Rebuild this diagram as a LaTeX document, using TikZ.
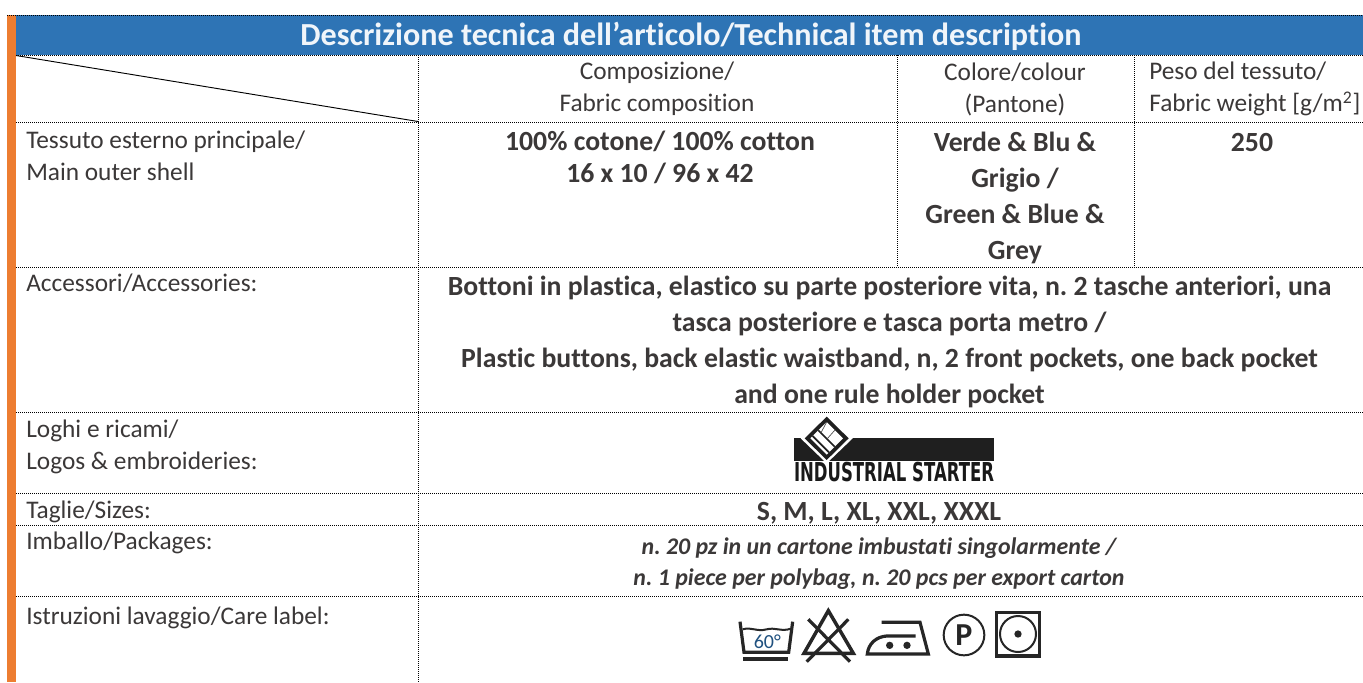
\documentclass[tikz,border=0pt]{standalone}
\usepackage{graphicx}
\usepackage{fontspec}
\setmainfont{Carlito}[Ligatures=NoCommon]
\newfontfamily\brandfont{DejaVu Sans}
\frenchspacing
\definecolor{hdr}{HTML}{2E74B5}
\definecolor{bar}{HTML}{ED7D31}
\definecolor{ink}{HTML}{3B3838}
\tikzset{
 grid/.style={black,line width=.7pt,dash pattern=on .75pt off .75pt},
 lab/.style={text=ink,font=\fontsize{19}{24}\selectfont,anchor=west,inner sep=0pt,align=left},
 mid/.style={text=ink,font=\fontsize{19}{24}\selectfont,inner sep=0pt,align=center},
 bmid/.style={text=ink,font=\fontsize{20.8}{27}\selectfont\bfseries,inner sep=0pt,align=center},
 care/.style={black!85,line width=2.4pt,line join=miter},
 thin care/.style={black!85,line width=1.5pt},
}
\begin{document}
\begin{tikzpicture}[x=.75pt,y=-.75pt]
\useasboundingbox (0,0) rectangle (1363,682);
\fill[white] (0,0) rectangle (1363,682);
\fill[hdr] (16,15) rectangle (1363,55);
\fill[bar] (7,15) rectangle (16,682);
\draw[grid] (7,15) -- (1363,15);
\foreach \yy in {55,122,267,412,493,525,596} \draw[grid] (16,\yy) -- (1363,\yy);
\draw[grid] (418,55) -- (418,682);
\draw[grid] (897,55) -- (897,267);
\draw[grid] (1134,55) -- (1134,267);
\draw[black,line width=.7pt] (16,55.5) -- (418,121.5);
\node[inner sep=0pt,text=white!93!hdr,font=\fontsize{24.1}{28}\selectfont\bfseries] (title) at (691,36) {Descrizione tecnica dell’articolo/Technical item description};
\node[mid] (h1) at (657,89) {Composizione/\\Fabric composition};
\node[mid] (h2) at (1015,89) {Colore/colour\\(Pantone)};
\node[lab] (h3) at (1149,89) {Peso del tessuto/\\Fabric weight [g/m\textsuperscript{2}]};
\node[lab] (r1) at (26,156) {Tessuto esterno principale/\\Main outer shell};
\node[bmid,font=\fontsize{20.8}{24}\selectfont\bfseries] (c1) at (660,157) {100\% cotone/ 100\% cotton\\16 x 10 / 96 x 42};
\node[bmid] (c2) at (1015,197.5) {Verde \& Blu \&\\Grigio /\\Green \& Blue \&\\Grey};
\node[bmid] (c3) at (1252,142) {250};
\node[lab] (r2) at (26,283) {Accessori/Accessories:};
\node[bmid] (acc) at (889.5,341.5) {Bottoni in plastica, elastico su parte posteriore vita, n. 2 tasche anteriori, una\\tasca posteriore e tasca porta metro /\\Plastic buttons, back elastic waistband, n, 2 front pockets, one back pocket\\and one rule holder pocket};
\node[lab] (r3) at (26,447) {Loghi e ricami/\\Logos \& embroideries:};
\node[lab] (r4) at (26,511.5) {Taglie/Sizes:};
\node[bmid] (sz) at (879,513) {S, M, L, XL, XXL, XXXL};
\node[lab] (r5) at (26,543) {Imballo/Packages:};
\node[bmid,font=\fontsize{17.9}{23}\selectfont\bfseries\itshape] (pk) at (879,563.5) {n. 20 pz in un cartone imbustati singolarmente /\\n. 1 piece per polybag, n. 20 pcs per export carton};
\node[lab] (r6) at (26,618) {Istruzioni lavaggio/Care label:};
% logo
\begin{scope}[shift={(760,400)},x=.25pt,y=-.25pt]
\fill[black!88] (102,115) rectangle (703,182);
\fill[white] (200,40) -- (278,115) -- (200,190) -- (122,115) -- cycle;
\fill[black!88] (200,50) -- (266,115) -- (200,180) -- (134,115) -- cycle;
\fill[white] (200,66) -- (249,115) -- (200,164) -- (151,115) -- cycle;
\draw[black!88,line width=1.3pt] (158,108) -- (207,157) (175,91) -- (224,140);
\draw[black!70,line width=.5pt] (200,66) -- (182,100) (224,91) -- (200,118);
\node[inner sep=0pt,anchor=center,text=black!90] (brand) at (402,216) {\resizebox{150pt}{14.5pt}{\brandfont\bfseries INDUSTRIAL STARTER}};
\end{scope}
% care
\begin{scope}[shift={(740,590)},x=.25pt,y=-.25pt]
\draw[care] (0,95) -- (12,187) -- (146,187) -- (158,95);
\draw[thin care] (8,118) .. controls (35,110) and (50,126) .. (80,118) .. controls (105,111) and (125,126) .. (152,116);
\fill[black!85] (10,202) rectangle (145,214);
\node[inner sep=0pt,text=hdr!70!black,font=\fontsize{15}{15}\selectfont] (wash) at (82,155) {60°};
\draw[care,line width=2.6pt] (265,62) -- (340,190) -- (192,190) -- cycle;
\draw[care] (205,88) -- (330,215) (325,88) -- (200,215);
\draw[care] (425,97) -- (540,97) -- (565,192) -- (382,192) .. controls (385,160) and (410,140) .. (440,138) -- (527,138);
\fill[black!85] (449,166) circle (11) (501,166) circle (11);
\draw[thin care] (672,135) circle (61);
\node[inner sep=0pt,text=black!85,font=\fontsize{24}{24}\selectfont\bfseries] (prof) at (672,135) {P};
\draw[care] (770,68) rectangle (898,198);
\draw[thin care] (834,132) circle (54);
\fill[black!85] (834,132) circle (11);
\end{scope}
\end{tikzpicture}
\end{document}
